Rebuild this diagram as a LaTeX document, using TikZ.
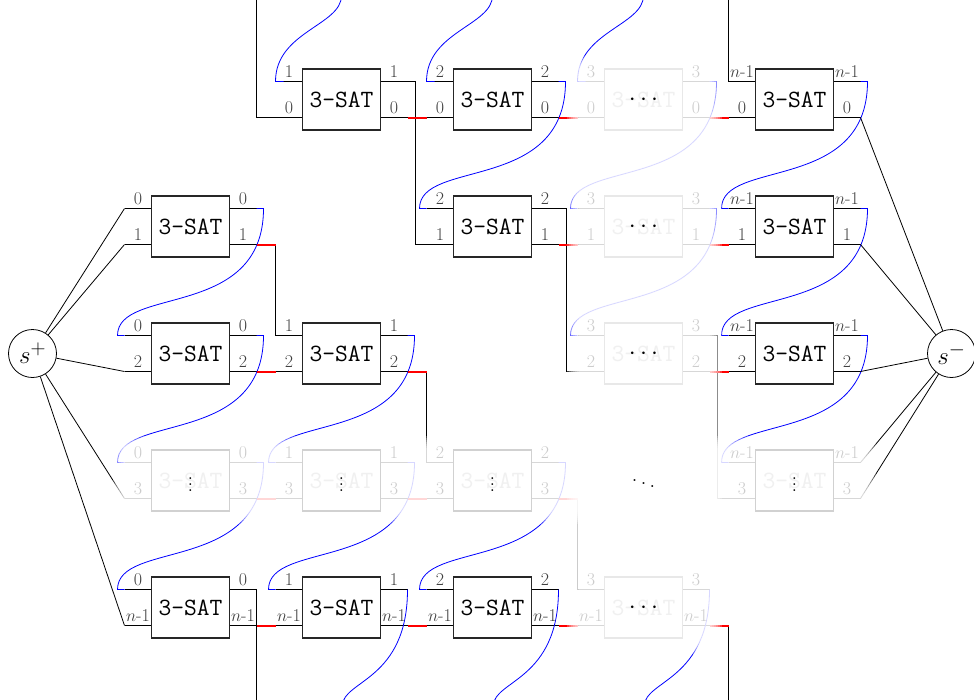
\documentclass[tikz,border=0pt]{standalone}
\usepackage{graphicx}
\usetikzlibrary{calc}
\newcommand\portname[1]{\ifnum#1=4 $n$-1\else#1\fi}
\newcommand\vdotsym{\scalebox{1.45}{\fontsize{13}{14}\selectfont$\vdots$}}
\begin{document}
\begin{tikzpicture}[x=1pt,y=-1pt,
  wire/.style={line width=0.8pt,black},
  redwire/.style={line width=2pt,red},
  bluewire/.style={line width=0.8pt,blue},
  sat/.style={draw=black!85,line width=1.1pt,fill=white,minimum width=78pt,minimum height=61pt,inner sep=0pt,font=\fontsize{24.8}{26}\selectfont\ttfamily},
  fadedcol/.style={sat,draw=black!9,text=black!6},
  fadedrow/.style={sat,draw=black!18,text=black!6},
  portlabel/.style={font=\fontsize{18}{20}\selectfont,text=black!75,inner sep=0pt,anchor=south},
  fadedlabel/.style={portlabel,text=black!20},
  terminal/.style={draw,circle,line width=0.8pt,fill=white,minimum size=48pt,inner sep=0pt,font=\fontsize{30}{32}\selectfont},
  dotsym/.style={inner sep=0pt,font=\fontsize{24}{26}\selectfont},
  veil/.style={fill=white,opacity=0.237}
]
\useasboundingbox (0,0) rectangle (974,699);

% grid positions and port coordinates of every gadget
\foreach \r/\c in {0/1,0/2,0/3,0/4,1/0,1/2,1/3,1/4,2/0,2/1,2/3,2/4,3/0,3/1,3/2,3/3,3/4,4/0,4/1,4/2,4/3} {
  \coordinate (m\r\c) at ({190.5+151*\c},{99.5+127*\r});
  \coordinate (lt\r\c) at ($(m\r\c)+(-66,-18)$);
  \coordinate (lb\r\c) at ($(m\r\c)+(-66,18)$);
  \coordinate (rt\r\c) at ($(m\r\c)+(66,-18)$);
  \coordinate (rb\r\c) at ($(m\r\c)+(66,18)$);
  \coordinate (Lt\r\c) at ($(m\r\c)+(-39,-18)$);
  \coordinate (Lb\r\c) at ($(m\r\c)+(-39,18)$);
  \coordinate (Rt\r\c) at ($(m\r\c)+(39,-18)$);
  \coordinate (Rb\r\c) at ($(m\r\c)+(39,18)$);
}

% terminals
\node[terminal] (splus) at (32.5,353.5) {$s^+$};
\node[terminal] (sminus) at (951.5,353.5) {$s^-$};

% port stubs
\foreach \r/\c in {0/1,0/2,0/3,0/4,1/0,1/2,1/3,1/4,2/0,2/1,2/3,2/4,3/0,3/1,3/2,3/4,4/0,4/1,4/2,4/3}
  \draw[wire] (lt\r\c) -- (Lt\r\c) (lb\r\c) -- (Lb\r\c) (Rt\r\c) -- (rt\r\c) (Rb\r\c) -- (rb\r\c);

% a row turning down into its column (vertical part)
\foreach \r/\c/\s/\j in {1/0/2/1,2/1/3/2,3/2/4/3} {
  \coordinate (turn\r) at (rb\r\c -| lt\s\j);
  \draw[wire] (turn\r) -- (lt\s\j);
}

% a column turning into its row
\foreach \r/\c/\s/\j in {0/1/1/2,1/2/2/3,2/3/3/4}
  \draw[wire] (rt\r\c) -- ++(8,0) |- (lb\s\j);

% links down the columns
\foreach \r/\s/\c in {1/2/0,2/3/0,3/4/0,2/3/1,3/4/1,0/1/2,3/4/2,0/1/3,1/2/3,0/1/4,1/2/4,2/3/4}
  \draw[bluewire] (rt\r\c) -- ++(7,0) .. controls +(0,112) and +(0,-50) .. ($(lt\s\c)+(-7,0)$) -- (lt\s\c);

% wrap-around from the bottom edge to the top edge
\foreach \c in {1,2,3} {
  \coordinate (bot\c) at ($(rt4\c)+(-65,116)$);
  \coordinate (top\c) at ($(lt0\c)+(66,-86)$);
  \draw[bluewire] (rt4\c) .. controls +(0,91) and +(0,-25) .. (bot\c);
  \draw[bluewire] (top\c) .. controls +(0,30) and +(0,-50) .. (lt0\c) -- ++(8,0);
}
\coordinate (bot0) at ($(rt40)+(0,116)$);
\coordinate (top0) at ($(lb01)+(-19,-123)$);
\draw[wire] (rt40) -- (bot0);
\draw[wire] (top0) |- (lb01);
\coordinate (turn4) at (rb43 -| lt04);
\coordinate (bot4) at ($(turn4)+(0,80)$);
\coordinate (top4) at ($(lt04)+(0,-86)$);
\draw[wire] (turn4) -- (bot4);
\draw[wire] (top4) -- (lt04);

% source and sink connections
\foreach \p in {lt10,lb10,lb20,lb30,lb40} \draw[wire] (splus) -- (\p);
\foreach \p in {rb04,rb14,rb24,rt34,rb34} \draw[wire] (\p) -- (sminus);

% horizontal links along the rows, in red
\foreach \r/\c/\j in {0/1/2,0/2/3,0/3/4,1/2/3,1/3/4,2/0/1,2/3/4,3/0/1,3/1/2,4/0/1,4/1/2,4/2/3}
  \draw[redwire] (rb\r\c) -- (lb\r\j);
\foreach \r/\c in {1/0,2/1,3/2,4/3}
  \draw[redwire] (rb\r\c) -- (turn\r);

% veils over the generic column and row
\foreach \k in {0,...,6} {
  \fill[veil] ({567+2*\k},{56+2*\k}) rectangle ({722-2*\k},{654-2*\k});
  \fill[veil] ({113+2*\k},{436+2*\k}) rectangle ({876-2*\k},{524-2*\k});
}

% gadgets
\foreach \r/\c in {0/1,0/2,0/4,1/0,1/2,1/4,2/0,2/1,2/4,4/0,4/1,4/2} {
  \node[sat] (g\r\c) at (m\r\c) {3-SAT};
  \node[portlabel] (alt\r\c) at ($(lt\r\c)!0.5!(Lt\r\c)+(0,-3.5)$) {\portname{\c}};
  \node[portlabel] (alb\r\c) at ($(lb\r\c)!0.5!(Lb\r\c)+(0,-3.5)$) {\portname{\r}};
  \node[portlabel] (art\r\c) at ($(rt\r\c)!0.5!(Rt\r\c)+(0,-3.5)$) {\portname{\c}};
  \node[portlabel] (arb\r\c) at ($(rb\r\c)!0.5!(Rb\r\c)+(0,-3.5)$) {\portname{\r}};
}
\foreach \r/\c/\kind/\sym in {0/3/fadedcol/{$\cdots$},1/3/fadedcol/{$\cdots$},2/3/fadedcol/{$\cdots$},4/3/fadedcol/{$\cdots$},3/0/fadedrow/\vdotsym,3/1/fadedrow/\vdotsym,3/2/fadedrow/\vdotsym,3/4/fadedrow/\vdotsym} {
  \node[\kind] (g\r\c) at (m\r\c) {3-SAT};
  \node[dotsym] (d\r\c) at (m\r\c) {\sym};
  \node[fadedlabel] (alt\r\c) at ($(lt\r\c)!0.5!(Lt\r\c)+(0,-3.5)$) {\portname{\c}};
  \node[fadedlabel] (alb\r\c) at ($(lb\r\c)!0.5!(Lb\r\c)+(0,-3.5)$) {\portname{\r}};
  \node[fadedlabel] (art\r\c) at ($(rt\r\c)!0.5!(Rt\r\c)+(0,-3.5)$) {\portname{\c}};
  \node[fadedlabel] (arb\r\c) at ($(rb\r\c)!0.5!(Rb\r\c)+(0,-3.5)$) {\portname{\r}};
}
\node[dotsym] (d33) at (m33) {$\ddots$};
\end{tikzpicture}
\end{document}
